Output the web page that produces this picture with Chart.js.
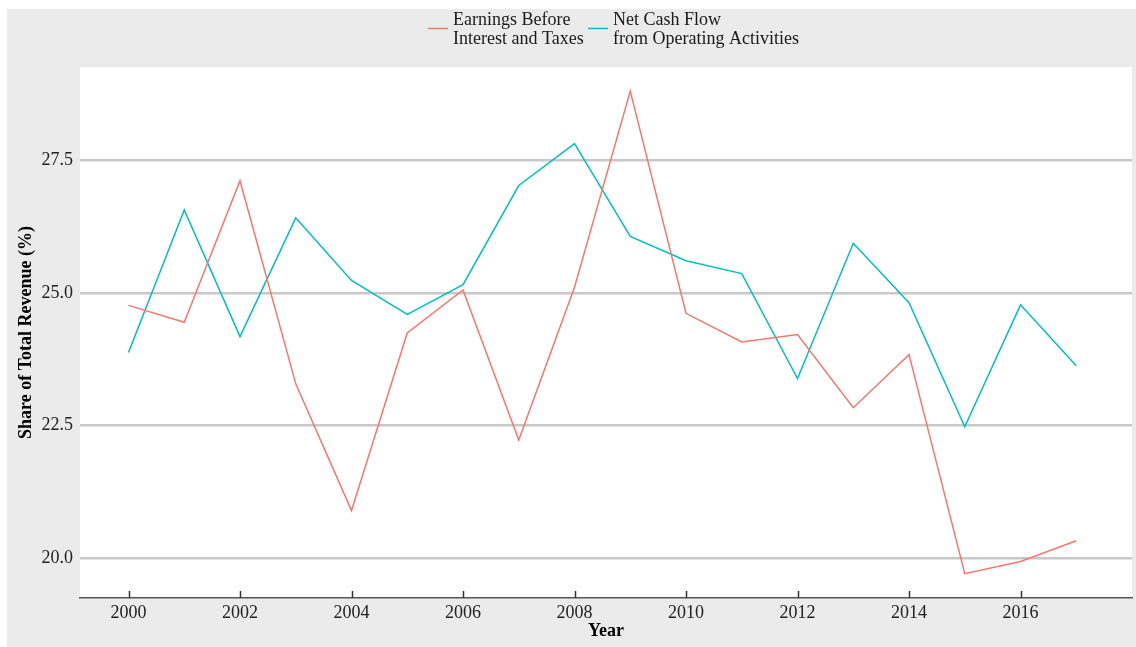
<!DOCTYPE html>
<html>
<head>
<meta charset="utf-8">
<script src="https://cdn.jsdelivr.net/npm/chart.js@4.4.1/dist/chart.umd.min.js"></script>
<style>
  html, body { margin: 0; padding: 0; background: #ffffff; }
  #wrap { position: absolute; left: 7px; top: 9px; width: 1129px; height: 638px; }
  canvas { display: block; }
</style>
</head>
<body>
<div id="wrap"><canvas id="c" width="1129" height="638"></canvas></div>
<script>
// ---- data ----
const years = [2000, 2001, 2002, 2003, 2004, 2005, 2006, 2007, 2008, 2009, 2010, 2011, 2012, 2013, 2014, 2015, 2016, 2017];
const ebit = [24.77, 24.45, 27.12, 23.29, 20.90, 24.25, 25.06, 22.23, 25.11, 28.81, 24.62, 24.08, 24.22, 22.84, 23.84, 19.71, 19.94, 20.33];
const netCashFlow = [23.88, 26.57, 24.18, 26.42, 25.24, 24.60, 25.16, 27.03, 27.82, 26.07, 25.61, 25.37, 23.39, 25.94, 24.82, 22.48, 24.78, 23.63];
const seriesNames = [["Earnings Before", "Interest and Taxes"], ["Net Cash Flow", "from Operating Activities"]];
const xTickValues = [2000, 2002, 2004, 2006, 2008, 2010, 2012, 2014, 2016];
const yTickValues = [20.0, 22.5, 25.0, 27.5];
const xTitle = "Year";
const yTitle = "Share of Total Revenue (%)";

const RED = "#F8766D", CYAN = "#00BFC4";
const FONT = "'Liberation Serif', 'Times New Roman', serif";

const bgPlugin = {
  id: 'bg',
  beforeDraw(chart) {
    const { ctx, chartArea } = chart;
    ctx.save();
    ctx.fillStyle = '#EBEBEB';
    ctx.fillRect(0, 0, chart.width, chart.height);
    ctx.fillStyle = '#FFFFFF';
    ctx.fillRect(chartArea.left, chartArea.top, chartArea.right - chartArea.left, chartArea.bottom - chartArea.top);
    ctx.restore();
  },
  afterDatasetsDraw(chart) {
    // inward tick marks on x axis
    const { ctx } = chart;
    const xs = chart.scales.x;
    ctx.save();
    ctx.strokeStyle = '#333333';
    ctx.lineWidth = 1.5;
    xs.ticks.forEach(t => {
      const px = Math.round(xs.getPixelForValue(t.value)) + 0.5;
      ctx.beginPath();
      ctx.moveTo(px, chart.chartArea.bottom);
      ctx.lineTo(px, chart.chartArea.bottom - 7);
      ctx.stroke();
    });
    ctx.restore();
  }
};

const legendPlugin = {
  id: 'customLegend',
  afterDraw(chart) {
    const { ctx } = chart;
    const items = [
      { x: 421, color: chart.data.datasets[0].borderColor, lines: chart.data.datasets[0].label },
      { x: 581, color: chart.data.datasets[1].borderColor, lines: chart.data.datasets[1].label }
    ];
    ctx.save();
    ctx.font = "18px " + FONT;
    ctx.textBaseline = 'middle';
    ctx.textAlign = 'left';
    items.forEach(it => {
      ctx.strokeStyle = it.color;
      ctx.lineWidth = 1.5;
      ctx.beginPath();
      ctx.moveTo(it.x, 19.5);
      ctx.lineTo(it.x + 20, 19.5);
      ctx.stroke();
      ctx.fillStyle = '#1a1a1a';
      it.lines.forEach((ln, i) => ctx.fillText(ln, it.x + 25, 11 + i * 19.5));
    });
    ctx.restore();
  }
};

new Chart(document.getElementById('c'), {
  type: 'line',
  data: {
    datasets: [
      { label: seriesNames[0], data: years.map((y, i) => ({ x: y, y: ebit[i] })), borderColor: RED, backgroundColor: RED, borderWidth: 1.5, pointRadius: 0, tension: 0, fill: false },
      { label: seriesNames[1], data: years.map((y, i) => ({ x: y, y: netCashFlow[i] })), borderColor: CYAN, backgroundColor: CYAN, borderWidth: 1.5, pointRadius: 0, tension: 0, fill: false }
    ]
  },
  options: {
    responsive: false,
    animation: false,
    devicePixelRatio: 1,
    layout: { padding: { left: 0, top: 58, right: 4, bottom: 0 } },
    plugins: { legend: { display: false }, tooltip: { enabled: false } },
    scales: {
      x: {
        type: 'linear',
        min: 1999.13,
        max: 2018.0,
        afterBuildTicks: s => { s.ticks = xTickValues.map(v => ({ value: v })); },
        afterFit: s => { s.height = 49; },
        grid: { display: true, drawOnChartArea: false, drawTicks: false },
        border: { display: true, color: '#555555', width: 1.5 },
        ticks: { color: '#222222', font: { family: FONT, size: 18 }, padding: 4, callback: v => String(v), maxRotation: 0, autoSkip: false },
        title: { display: true, text: xTitle, color: '#000000', font: { family: FONT, size: 18, weight: 'bold' }, padding: { top: 0, bottom: 5 } }
      },
      y: {
        type: 'linear',
        min: 19.251,
        max: 29.265,
        afterBuildTicks: s => { s.ticks = yTickValues.map(v => ({ value: v })); },
        afterFit: s => { s.width = 73; },
        grid: { color: '#C8C8C8', lineWidth: 2.5, drawTicks: false },
        border: { display: false },
        ticks: { color: '#222222', font: { family: FONT, size: 18 }, padding: 7, callback: v => Number(v).toFixed(1) },
        title: { display: true, text: yTitle, color: '#000000', font: { family: FONT, size: 18, weight: 'bold' }, padding: { top: 9, bottom: 0 } }
      }
    }
  },
  plugins: [bgPlugin, legendPlugin]
});
</script>
</body>
</html>
